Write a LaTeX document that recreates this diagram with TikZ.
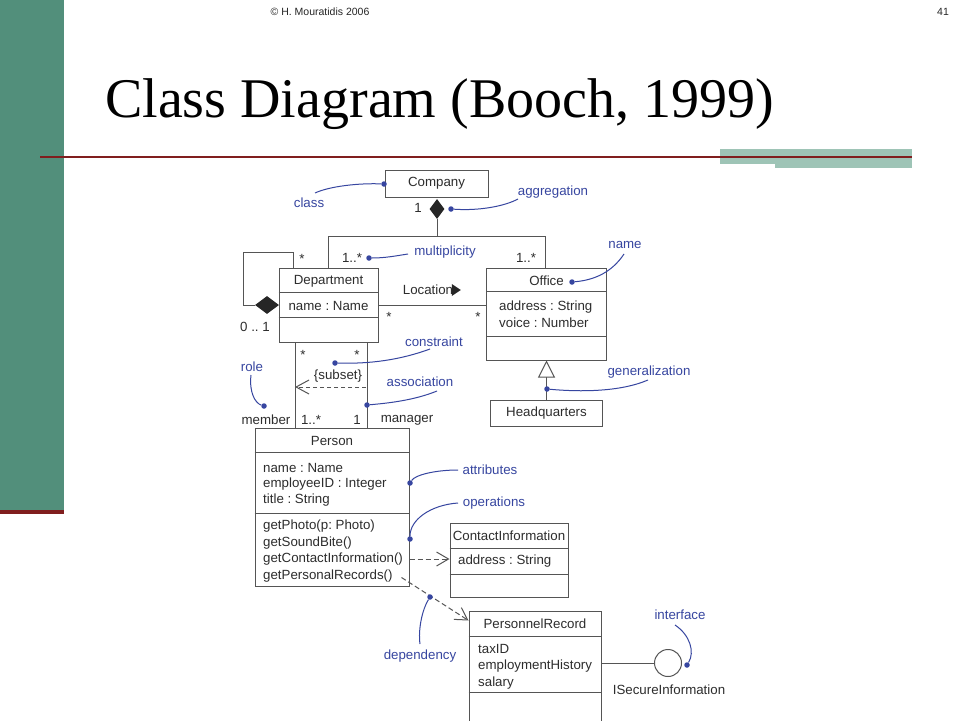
\documentclass[tikz,border=0pt]{standalone}
\usepackage{fontspec}
\setmainfont{Liberation Sans}
\newfontfamily\titlefont{Liberation Serif}
\usetikzlibrary{arrows.meta,shapes.geometric}
\definecolor{barGreen}{RGB}{82,143,123}
\definecolor{lineRed}{RGB}{128,30,30}
\definecolor{paleGreen}{RGB}{158,196,182}
\definecolor{noteBlue}{RGB}{55,70,160}
\definecolor{umlGray}{RGB}{85,85,85}
\definecolor{umlText}{RGB}{45,45,45}
\frenchspacing
\begin{document}
\begin{tikzpicture}[x=1pt,y=-1pt,
  box/.style={draw=umlGray, line width=1pt, inner sep=0pt},
  cls/.style={font=\fontsize{13.3}{15}\selectfont, text=umlText, inner sep=0pt},
  lbl/.style={cls, anchor=west},
  note/.style={font=\fontsize{13.3}{15}\selectfont, text=noteBlue, inner sep=0pt},
  notecurve/.style={draw=noteBlue, line width=1pt},
  notedot/.style={circle, fill=noteBlue, inner sep=0pt, minimum size=5.5pt},
  conn/.style={draw=umlGray, line width=1pt},
  depend/.style={conn, dash pattern=on 5pt off 3pt, -{Straight Barb[length=12pt,width=14pt]}},
  solidgem/.style={diamond, fill=black!85, inner sep=0pt},
]
\clip (0,0) rectangle (960,720);
\fill[white] (0,0) rectangle (960,720);
% slide decoration
\fill[barGreen] (0,0) rectangle (64,510);
\fill[lineRed] (0,510) rectangle (64,514);
\fill[paleGreen] (720,149) rectangle (912,164);
\fill[paleGreen] (775,149) rectangle (912,168);
\fill[lineRed] (40,155.8) rectangle (912,158.2);
\node[font=\fontsize{10.5}{12}\selectfont, text=black!85, inner sep=0pt] (hdr) at (320,12) {© H. Mouratidis 2006};
\node[font=\fontsize{10.5}{12}\selectfont, text=black!85, inner sep=0pt] (pageno) at (943,12) {41};
\node[font=\titlefont\fontsize{56}{60}\selectfont, anchor=base west, inner sep=0pt] (title) at (105,117) {Class Diagram (Booch, 1999)};

% ---- classes
\node[box, cls, minimum width=103pt, minimum height=27pt] (company) at (436.5,183.5) {Company};
\node[solidgem, minimum width=15pt, minimum height=20pt] (agg) at (437,209) {};
\node[cls] (m1) at (418,208) {1};

\node[box, minimum width=99pt, minimum height=74pt] (dept) at (328.5,305) {};
\draw[conn] ([yshift=-25pt]dept.north west) -- ([yshift=-25pt]dept.north east);
\draw[conn] ([yshift=-50pt]dept.north west) -- ([yshift=-50pt]dept.north east);
\node[cls] (deptname) at (328.5,281) {Department};
\node[cls] (deptattr) at (328.5,306) {name : Name};

\node[box, minimum width=120pt, minimum height=92pt] (office) at (546.5,314) {};
\draw[conn] ([yshift=-24pt]office.north west) -- ([yshift=-24pt]office.north east);
\draw[conn] ([yshift=-69pt]office.north west) -- ([yshift=-69pt]office.north east);
\node[cls] (officename) at (546.5,281) {Office};
\node[lbl] (officea1) at (499,307) {address : String};
\node[lbl] (officea2) at (499,323) {voice : Number};

\node[box, cls, minimum width=112pt, minimum height=26pt] (hq) at (546.5,413) {Headquarters};

\node[box, minimum width=154pt, minimum height=158pt] (person) at (332,507) {};
\draw[conn] ([yshift=-25pt]person.north west) -- ([yshift=-25pt]person.north east);
\draw[conn] ([yshift=-86pt]person.north west) -- ([yshift=-86pt]person.north east);
\node[cls] (personname) at (332,441) {Person};
\node[lbl] (pa1) at (263,468) {name : Name};
\node[lbl] (pa2) at (263,484) {employeeID : Integer};
\node[lbl] (pa3) at (263,500) {title : String};
\node[lbl] (po1) at (263,526) {getPhoto(p: Photo)};
\node[lbl] (po2) at (263,543) {getSoundBite()};
\node[lbl] (po3) at (263,559) {getContactInformation()};
\node[lbl] (po4) at (263,576) {getPersonalRecords()};

\node[box, minimum width=118pt, minimum height=74pt] (contact) at (509,560) {};
\draw[conn] ([yshift=-26pt]contact.north west) -- ([yshift=-26pt]contact.north east);
\draw[conn] ([yshift=-52pt]contact.north west) -- ([yshift=-52pt]contact.north east);
\node[cls] (contactname) at (509,536) {ContactInformation};
\node[lbl] (contacta) at (458,561) {address : String};

\node[box, minimum width=132pt, minimum height=114pt] (pr) at (535,668) {};
\draw[conn] ([yshift=-26pt]pr.north west) -- ([yshift=-26pt]pr.north east);
\draw[conn] ([yshift=-82pt]pr.north west) -- ([yshift=-82pt]pr.north east);
\node[cls] (prname) at (535,624) {PersonnelRecord};
\node[lbl] (pra1) at (478,649) {taxID};
\node[lbl] (pra2) at (478,666) {employmentHistory};
\node[lbl] (pra3) at (478,683) {salary};

\node[circle, draw=umlGray, line width=1pt, minimum size=27pt, inner sep=0pt] (iface) at (668,663) {};
\node[cls] (ifacelbl) at (669,690) {ISecureInformation};

% ---- connectors
\coordinate (jl) at (328,236);
\coordinate (jr) at (545,236);
\draw[conn] (agg.south) -- (agg.south |- jl);
\draw[conn] (jl |- dept.north) -- (jl) -- (jr) -- (jr |- office.north);
\node[cls] (m2) at (352,258) {1..*};
\node[cls] (m3) at (526,258) {1..*};

\node[solidgem, minimum width=24pt, minimum height=18pt] (dagg) at (267,305) {};
\coordinate (loopA) at (293,252);
\coordinate (loopB) at (243,252);
\draw[conn] (dept.north -| loopA) -- (loopA) -- (loopB) |- (dagg.west);
\node[cls] (m4) at (302,259) {*};
\node[cls] (m5) at (255,327) {0 .. 1};

\draw[conn] (dept.east) -- (dept.east -| office.west);
\node[cls] (loc) at (428,290) {Location};
\fill[black!85] ([xshift=-1.5pt,yshift=6pt]loc.east) -- ++(9,6) -- ++(-9,6) -- cycle;
\node[cls] (m6) at (389,317) {*};
\node[cls] (m7) at (478,317) {*};

\coordinate (mx1) at (295,0);
\coordinate (mx2) at (367,0);
\draw[conn] (dept.south -| mx1) -- (person.north -| mx1);
\draw[conn] (dept.south -| mx2) -- (person.north -| mx2);
\coordinate (s1) at (366,387);
\draw[conn, dash pattern=on 4pt off 3pt, -{Straight Barb[length=13pt,width=14pt]}] (s1) -- (s1 -| mx1);
\node[cls] (subset) at (338,376) {\{subset\}};
\node[cls] (m8) at (303,355) {*};
\node[cls] (m9) at (357,355) {*};
\node[cls] (member) at (266,420) {member};
\node[cls] (m10) at (311,420) {1..*};
\node[cls] (m11) at (357,420) {1};
\node[cls] (manager) at (407,420) {manager};

\draw[conn, -{Triangle[open, length=17pt, width=17pt, fill=white]}] (hq.north) -- (office.south);

\coordinate (d1) at (0,559);
\draw[depend] (person.east |- d1) -- (contact.west |- d1);
\draw[depend] ([xshift=-8pt,yshift=9pt]person.south east) -- ([yshift=-10pt]pr.north west);

\draw[conn] (iface.west -| pr.east) -- (iface.west);

% ---- annotations
\node[note] (nclass) at (309,203) {class};
\node[notedot] (dclass) at (384,184) {};
\draw[notecurve] (315,193) .. controls (330,186) and (360,183) .. (dclass);

\node[note] (nagg) at (553,192) {aggregation};
\node[notedot] (dagg2) at (451,209) {};
\draw[notecurve] (dagg2) .. controls (480,211) and (505,206) .. (518,199);

\node[note] (nmult) at (445,252) {multiplicity};
\node[notedot] (dmult) at (369,258) {};
\draw[notecurve] (dmult) .. controls (385,258) and (395,256) .. (408,254);

\node[note] (nname) at (625,245) {name};
\node[notedot] (dname) at (572,282) {};
\draw[notecurve] (624,254) .. controls (612,272) and (595,280) .. (dname);

\node[note] (ncons) at (434,342) {constraint};
\node[notedot] (dcons) at (335,363) {};
\draw[notecurve] (430,349) .. controls (400,360) and (370,364) .. (dcons);

\node[note] (nassoc) at (420,382) {association};
\node[notedot] (dassoc) at (367,405) {};
\draw[notecurve] (437,391) .. controls (415,400) and (390,403) .. (dassoc);

\node[note] (nrole) at (252,367) {role};
\node[notedot] (drole) at (264,406) {};
\draw[notecurve] (251,375) .. controls (249,392) and (255,403) .. (drole);

\node[note] (ngen) at (649,372) {generalization};
\node[notedot] (dgen) at (547,389) {};
\draw[notecurve] (648,380) .. controls (620,392) and (580,392) .. (dgen);

\node[note] (nattr) at (490,470) {attributes};
\node[notedot] (dattr) at (410,483) {};
\draw[notecurve] (458,470) .. controls (435,470) and (415,475) .. (dattr);

\node[note] (nops) at (494,503) {operations};
\node[notedot] (dops) at (410,539) {};
\draw[notecurve] (458,503) .. controls (430,505) and (410,520) .. (dops);

\node[note] (ndep) at (420,656) {dependency};
\node[notedot] (ddep) at (430,597) {};
\draw[notecurve] (ddep) .. controls (422,610) and (418,630) .. (420,644);

\node[note] (nif) at (680,615) {interface};
\node[notedot] (dif) at (687,665) {};
\draw[notecurve] (675,625) .. controls (690,635) and (695,652) .. (dif);
\end{tikzpicture}
\end{document}
